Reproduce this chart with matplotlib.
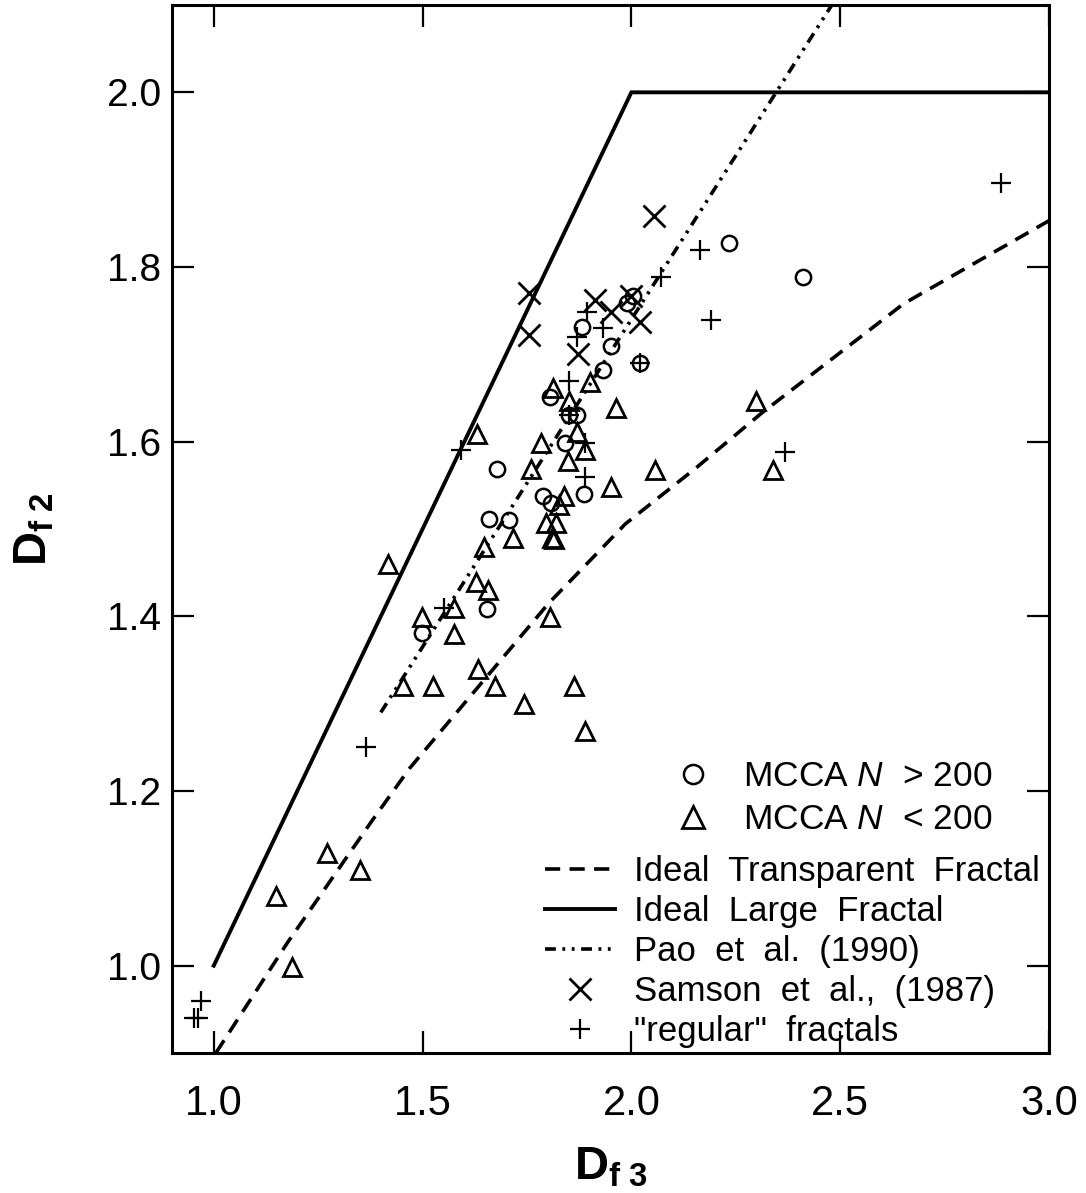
import matplotlib
matplotlib.use("Agg")
import matplotlib.pyplot as plt

plt.rcParams['font.family'] = ['Liberation Sans', 'DejaVu Sans']
plt.rcParams['mathtext.fontset'] = 'custom'
plt.rcParams['mathtext.rm'] = 'Liberation Sans'
plt.rcParams['mathtext.it'] = 'Liberation Sans:italic'
plt.rcParams['mathtext.bf'] = 'Liberation Sans:bold'

# MCCA N > 200 (circles)
big_x = [1.498, 1.655, 1.660, 1.707, 1.679, 1.788, 1.807, 1.886, 1.840, 1.850,
         1.869, 1.805, 1.931, 1.950, 1.881, 2.021, 1.990, 2.005, 2.233, 2.412]
big_y = [1.381, 1.408, 1.511, 1.510, 1.569, 1.538, 1.530, 1.540, 1.599, 1.631,
         1.630, 1.651, 1.682, 1.709, 1.731, 1.690, 1.759, 1.767, 1.828, 1.788]

# MCCA N < 200 (triangles)
small_x = [1.902, 1.812, 1.850, 1.962, 1.631, 1.783, 1.869, 1.890, 1.848, 1.760,
           2.057, 1.950, 1.838, 1.826, 1.795, 1.819, 1.717, 1.810, 1.815, 1.417,
           1.648, 1.629, 1.657, 1.576, 1.498, 1.576, 1.805, 1.633, 1.452, 1.524,
           1.674, 1.862, 1.743, 1.890, 2.298, 2.338, 1.271, 1.350, 1.150, 1.188]
small_y = [1.668, 1.661, 1.647, 1.639, 1.609, 1.598, 1.611, 1.590, 1.578, 1.569,
           1.567, 1.548, 1.538, 1.527, 1.507, 1.507, 1.490, 1.490, 1.488, 1.460,
           1.479, 1.439, 1.430, 1.409, 1.399, 1.380, 1.399, 1.340, 1.320, 1.320,
           1.320, 1.320, 1.300, 1.269, 1.647, 1.567, 1.129, 1.109, 1.080, 0.998]

# Samson et al. (1987)
samson_x = [1.755, 1.755, 1.914, 1.952, 2.000, 2.021, 1.871, 2.055]
samson_y = [1.770, 1.722, 1.762, 1.748, 1.767, 1.737, 1.700, 1.858]

# "regular" fractals
reg_x = [2.164, 2.071, 2.190, 2.886, 2.367, 1.893, 1.933, 1.869, 1.850, 1.593,
         1.890, 1.890, 2.021, 1.850, 1.552, 1.364, 0.969, 0.952, 0.962]
reg_y = [1.819, 1.788, 1.739, 1.896, 1.588, 1.748, 1.730, 1.720, 1.670, 1.590,
         1.599, 1.559, 1.690, 1.631, 1.410, 1.250, 0.960, 0.940, 0.940]

# curves
transp_x = [1.005, 1.176, 1.379, 1.469, 1.802, 1.986, 2.155, 2.310, 2.652, 3.0]
transp_y = [0.900, 1.026, 1.166, 1.226, 1.415, 1.506, 1.570, 1.632, 1.758, 1.853]
large_x = [1.0, 2.0, 3.0]
large_y = [1.0, 2.0, 2.0]
pao_x = [1.40, 2.50]
pao_y = [1.29, 2.115]

xticks = [1.0, 1.5, 2.0, 2.5, 3.0]
xtick_labels = ['1.0', '1.5', '2.0', '2.5', '3.0']
yticks = [1.0, 1.2, 1.4, 1.6, 1.8, 2.0]
ytick_labels = ['1.0', '1.2', '1.4', '1.6', '1.8', '2.0']

fig = plt.figure(figsize=(10.86, 11.93), dpi=100)
ax = fig.add_axes([172/1086, 1 - 1053/1193, (1049 - 172)/1086, (1053 - 5)/1193])

k = 'black'
lt, = ax.plot(transp_x, transp_y, color=k, lw=2.6, linestyle=(0, (4.2, 2.6)))
ll, = ax.plot(large_x, large_y, color=k, lw=2.8, solid_joinstyle='miter')
lp, = ax.plot(pao_x, pao_y, color=k, lw=2.6, linestyle=(0, (3, 1.8, 0.8, 1.8, 0.8, 1.8)))

hb, = ax.plot(big_x, big_y, 'o', ms=11, mfc='none', mec=k, mew=1.8, ls='none')
hs, = ax.plot(small_x, small_y, '^', ms=13, mfc='none', mec=k, mew=2.0, ls='none')
hx, = ax.plot(samson_x, samson_y, 'x', ms=16, mec=k, mew=2.0, ls='none')
hr, = ax.plot(reg_x, reg_y, '+', ms=14, mec=k, mew=1.6, ls='none')

ax.set_xlim(0.90, 3.0)
ax.set_ylim(0.90, 2.10)
ax.set_xticks(xticks, labels=xtick_labels, fontsize=30)
ax.set_yticks(yticks, labels=ytick_labels, fontsize=28)
ax.tick_params(direction='in', length=16, width=1.6, top=True, right=True)
ax.tick_params(axis='x', pad=22)
ax.tick_params(axis='y', pad=8)
for s in ax.spines.values():
    s.set_linewidth(2.2)

ax.set_xlabel(r'$\mathbf{D}_{\mathbf{f\ 3}}$', fontsize=34, labelpad=16)
ax.set_ylabel(r'$\mathbf{D}_{\mathbf{f\ 2}}$', fontsize=34, labelpad=36)

leg1 = ax.legend([hb, hs], ['MCCA $N$  > 200', 'MCCA $N$  < 200'],
                 loc='upper left', bbox_to_anchor=(0.538, 0.293), frameon=False,
                 fontsize=25.5, handlelength=2.0, handletextpad=0.4,
                 labelspacing=0.28, borderaxespad=0, markerscale=1.25)
ax.add_artist(leg1)
ax.legend([lt, ll, lp, hx, hr],
          ['Ideal  Transparent  Fractal', 'Ideal  Large  Fractal',
           'Pao  et  al.  (1990)', 'Samson  et  al.,  (1987)', '"regular"  fractals'],
          loc='upper left', bbox_to_anchor=(0.41, 0.202), frameon=False,
          fontsize=25, handlelength=2.0, handletextpad=0.55,
          labelspacing=0.2, borderaxespad=0)

fig.savefig('out.png', dpi=100)
